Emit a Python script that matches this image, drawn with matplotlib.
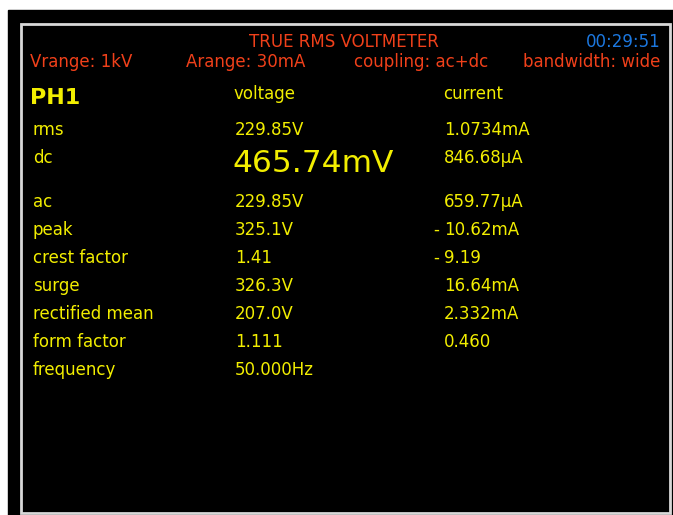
import matplotlib
matplotlib.use("Agg")
import matplotlib.pyplot as plt
from matplotlib.patches import Rectangle

# readings shown on the meter screen
labels = ["rms", "dc", "ac", "peak", "crest factor", "surge",
          "rectified mean", "form factor", "frequency"]
voltage = ["229.85V", "465.74mV", "229.85V", "325.1V", "1.41", "326.3V",
           "207.0V", "1.111", "50.000Hz"]
current = ["1.0734mA", "846.68µA", "659.77µA", "-10.62mA", "-9.19", "16.64mA",
           "2.332mA", "0.460", ""]
settings = ["Vrange: 1kV", "Arange: 30mA", "coupling: ac+dc", "bandwidth: wide"]

# layout (pixels from the top-left corner)
row_y = [130, 158, 202, 230, 258, 286, 314, 342, 370]
settings_x = [30, 186, 354, 514]

yellow = "#f2ee00"
orange = "#f0401a"
blue = "#1c78e0"
fs = 12

fig = plt.figure(figsize=(6.73, 5.15), dpi=100)
ax = fig.add_axes([0, 0, 1, 1])
ax.set_xlim(0, 673)
ax.set_ylim(515, 0)
ax.axis("off")

# screen frame
ax.add_patch(Rectangle((8, 10), 665, 505, color="black"))
ax.add_patch(Rectangle((20.5, 23.5), 649, 489, facecolor="black", edgecolor="#d8d8d8", lw=2))

# header
ax.text(344, 42, "TRUE RMS VOLTMETER", color=orange, fontsize=fs, ha="center", va="center")
ax.text(661, 42, "00:29:51", color=blue, fontsize=fs, ha="right", va="center")
for i, s in enumerate(settings):
    if i == len(settings) - 1:
        ax.text(660, 62, s, color=orange, fontsize=fs, ha="right", va="center")
    else:
        ax.text(settings_x[i], 62, s, color=orange, fontsize=fs, ha="left", va="center")

ax.text(30, 98, "PH1", color=yellow, fontsize=16, fontweight="bold", va="center")
ax.text(233, 94, "voltage", color=yellow, fontsize=fs, va="center")
ax.text(443, 94, "current", color=yellow, fontsize=fs, va="center")

for i in range(len(labels)):
    y = row_y[i]
    ax.text(33, y, labels[i], color=yellow, fontsize=fs, va="center")
    if labels[i] == "dc":
        ax.text(232, y + 6, voltage[i], color=yellow, fontsize=22.5, va="center")
    else:
        ax.text(235, y, voltage[i], color=yellow, fontsize=fs, va="center")
    c = current[i]
    if c.startswith("-"):
        ax.text(433, y, "-", color=yellow, fontsize=fs, va="center")
        c = c[1:]
    ax.text(444, y, c, color=yellow, fontsize=fs, va="center")

plt.savefig("out.png", dpi=100, facecolor="white")
